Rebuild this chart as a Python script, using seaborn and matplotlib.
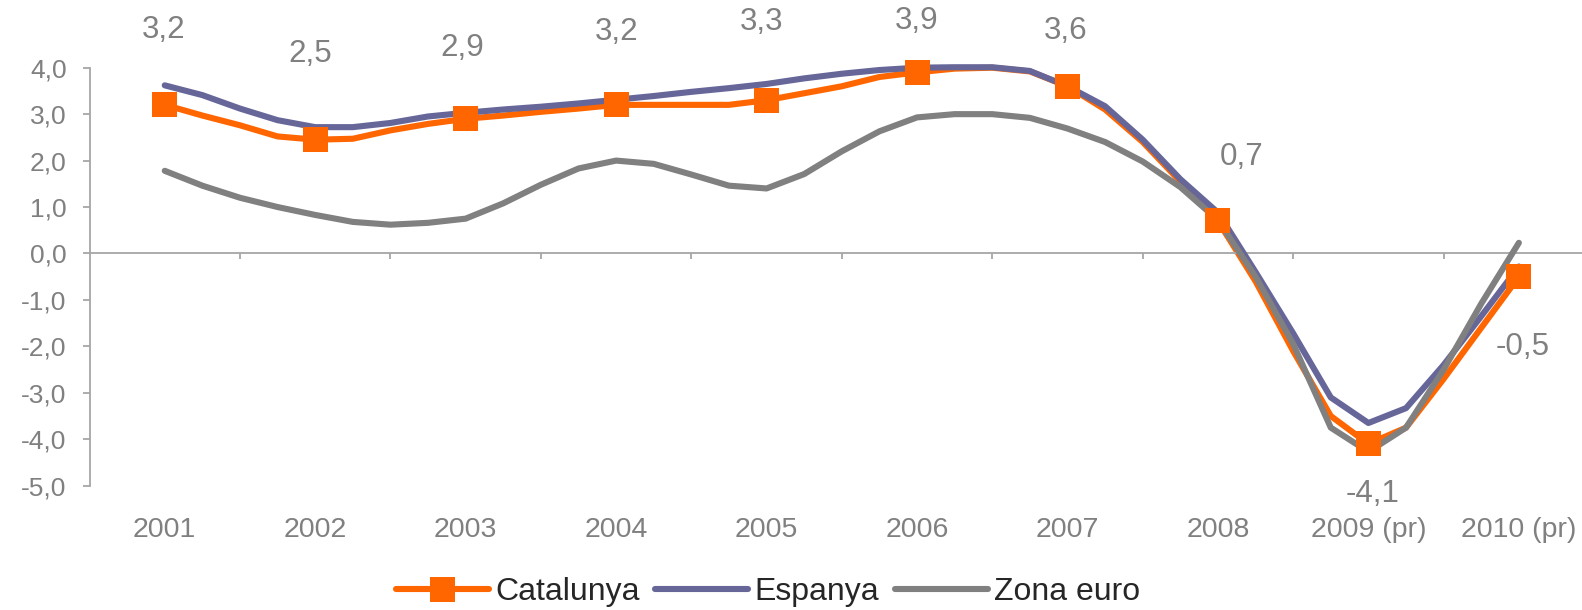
import matplotlib
matplotlib.use("Agg")
import matplotlib.pyplot as plt
import seaborn as sns
import numpy as np
import pandas as pd
from matplotlib.lines import Line2D
from matplotlib.ticker import FixedLocator, FuncFormatter

# ---------------- data ----------------
years = ["2001", "2002", "2003", "2004", "2005", "2006", "2007", "2008",
         "2009 (pr)", "2010 (pr)"]

# quarterly readings (2001 ... 2010, four steps per year)
catalunya = [3.20, 2.97, 2.76, 2.52, 2.45, 2.47, 2.65, 2.79, 2.90, 2.97,
             3.05, 3.12, 3.20, 3.20, 3.20, 3.20, 3.30, 3.45, 3.60, 3.80,
             3.90, 3.98, 4.00, 3.92, 3.60, 3.10, 2.40, 1.55, 0.70, -0.60,
             -2.10, -3.50, -4.10, -3.75, -2.70, -1.60, -0.50]
espanya = [3.62, 3.41, 3.12, 2.87, 2.72, 2.72, 2.81, 2.95, 3.03, 3.10,
           3.16, 3.23, 3.31, 3.39, 3.48, 3.56, 3.65, 3.77, 3.87, 3.95,
           4.00, 4.01, 4.01, 3.93, 3.60, 3.17, 2.45, 1.60, 0.88, -0.40,
           -1.72, -3.10, -3.65, -3.33, -2.40, -1.35, -0.28]
zona_euro = [1.78, 1.46, 1.20, 1.00, 0.83, 0.68, 0.62, 0.66, 0.75, 1.08,
             1.48, 1.83, 2.00, 1.93, 1.70, 1.46, 1.40, 1.71, 2.20, 2.63,
             2.93, 3.00, 3.00, 2.92, 2.69, 2.40, 1.98, 1.43, 0.72, -0.50,
             -1.95, -3.75, -4.27, -3.75, -2.50, -1.08, 0.23]

# annual Catalunya labels
cat_labels = [3.2, 2.5, 2.9, 3.2, 3.3, 3.9, 3.6, 0.7, -4.1, -0.5]

series_names = ["Catalunya", "Espanya", "Zona euro"]
colors = {"Catalunya": "#FF6600", "Espanya": "#666699", "Zona euro": "#808080"}

# label offsets in pixels (dx, dy up-positive)
label_offsets = [(-1, 75), (-5, 86), (-3, 71), (0, 73), (-5, 78),
                 (0, 51), (-2, 55), (24, 64), (4, -50), (4, -70)]

# ---------------- figure ----------------
sns.set_theme(style="white")
plt.rcParams["font.family"] = ["Liberation Sans", "DejaVu Sans"]

DPI = 100
fig = plt.figure(figsize=(15.82, 6.10), dpi=DPI)
ax = fig.add_axes([89.5 / 1582, 1 - 485.7 / 610, 1 - 89.5 / 1582, (485.7 - 67.7) / 610])

pos = np.arange(len(catalunya)) / 4.0
df = pd.DataFrame({"pos": pos, "Catalunya": catalunya, "Espanya": espanya,
                   "Zona euro": zona_euro})

LW = 4.4
for i, name in enumerate(series_names):
    sns.lineplot(data=df, x="pos", y=name, ax=ax, color=colors[name], linewidth=LW,
                 solid_capstyle="round", solid_joinstyle="round", zorder=2 + i,
                 clip_on=False)

annual = pd.DataFrame({"pos": np.arange(len(years)), "val": df["Catalunya"].iloc[::4].values})
sns.scatterplot(data=annual, x="pos", y="val", ax=ax, marker="s", s=18 ** 2,
                color=colors["Catalunya"], edgecolor="none", linewidth=0, zorder=6,
                clip_on=False)

for i, (lab, (dx, dy)) in enumerate(zip(cat_labels, label_offsets)):
    ax.annotate(f"{lab:.1f}".replace(".", ","), xy=(annual["pos"][i], annual["val"][i]),
                xytext=(dx * 72 / DPI, dy * 72 / DPI), textcoords="offset points",
                ha="center", va="center", fontsize=22.6, color="#808080",
                annotation_clip=False, zorder=7)

# ---------------- axes ----------------
spine_c = "#A6A6A6"
ax.set_xlim(-0.5, (1582 - 165.3) / 150.4)
ax.set_ylim(-5, 4)
for s in ["top", "right"]:
    ax.spines[s].set_visible(False)
ax.spines["left"].set_color(spine_c)
ax.spines["left"].set_linewidth(1.3)
ax.spines["bottom"].set_color(spine_c)
ax.spines["bottom"].set_linewidth(1.3)
ax.spines["bottom"].set_position(("data", 0))

ax.yaxis.set_major_locator(FixedLocator(np.arange(-5, 5, 1)))
ax.yaxis.set_major_formatter(FuncFormatter(lambda v, p: f"{v:.1f}".replace(".", ",")))
ax.tick_params(axis="y", which="major", direction="out", length=5, width=1.3,
               color=spine_c, labelcolor="#808080", labelsize=19, pad=11.5, left=True)

ax.xaxis.set_major_locator(FixedLocator(np.arange(len(years))))
ax.set_xticklabels(years)
ax.xaxis.set_minor_locator(FixedLocator(np.arange(len(years)) + 0.5))
ax.tick_params(axis="x", which="major", length=0, labelcolor="#808080",
               labelsize=20.5, pad=190)
ax.tick_params(axis="x", which="minor", direction="out", length=4.5, width=1.3,
               color=spine_c, bottom=True)
ax.set_xlabel("")
ax.set_ylabel("")
ax.grid(False)

handles = [Line2D([0], [0], color=colors["Catalunya"], lw=LW, marker="s", markersize=18,
                  markeredgewidth=0, solid_capstyle="round"),
           Line2D([0], [0], color=colors["Espanya"], lw=LW, solid_capstyle="round"),
           Line2D([0], [0], color=colors["Zona euro"], lw=LW, solid_capstyle="round")]
fig.legend(handles, series_names, loc="center", bbox_to_anchor=(768 / 1582, 1 - 592 / 610),
           ncol=3, frameon=False, fontsize=23, handlelength=2.9, handletextpad=0.2,
           columnspacing=0.5, borderpad=0, borderaxespad=0)

fig.savefig("out.png", dpi=DPI)
